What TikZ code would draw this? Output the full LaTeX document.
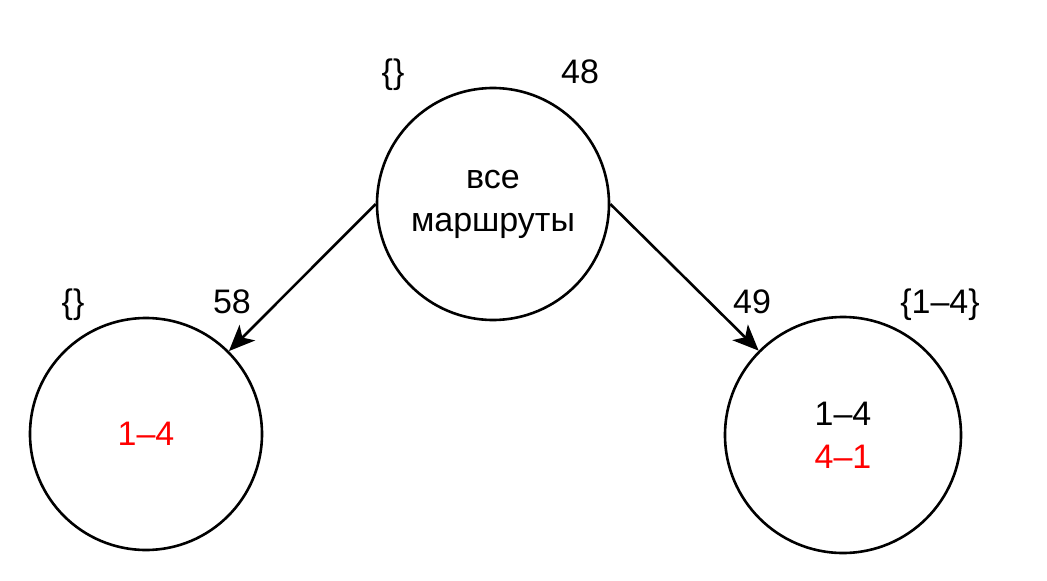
\documentclass[tikz,border=0pt]{standalone}
\usepackage{fontspec}
\setmainfont{Liberation Sans}
\usepackage{tikz}
\usetikzlibrary{arrows.meta}
\usetikzlibrary{positioning}
\usepackage{xcolor}
\tikzset{
state/.style={draw,
  circle,
    line width=2.6pt,
    minimum size=232pt,
    inner sep=0pt,
    align=center,
    font=\fontsize{34}{43}\selectfont},
tag/.style={
  font=\fontsize{34}{40}\selectfont,
    inner sep=0pt},
edge/.style={line width=2.6pt,
  -{Stealth[length=26pt,width=22pt,inset=7pt]}},
}

\begin{document}
\begin{tikzpicture}[x=1pt,y=-1pt]
  \useasboundingbox (0,0) rectangle (1047,581);

  % Nodes
  \node [state] (root) at (493,204) {все\\маршруты};
  \node [state] (left) at (146,434) {\textcolor{red}{1–4}};
  \node [state, minimum size=236pt] (right) at (843,435) {1–4\\\textcolor{red}{4–1}};

  % Labels
  \node [tag] (rootset) at (393,75) {\{\}};
  \node [tag] (rootval) at (580,72) {48};
  \node [tag] (leftset) at (73,305) {\{\}};
  \node [tag] (leftval) at (232,302) {58};
  \node [tag] (rightval) at (752,302) {49};
  \node [tag] (rightset) at (940,305) {\{1–4\}};

  % Edges
  \draw [edge] (root.west) -- (left.45);
  \draw [edge] (root.east) -- (right.135);
\end{tikzpicture}
\end{document}
